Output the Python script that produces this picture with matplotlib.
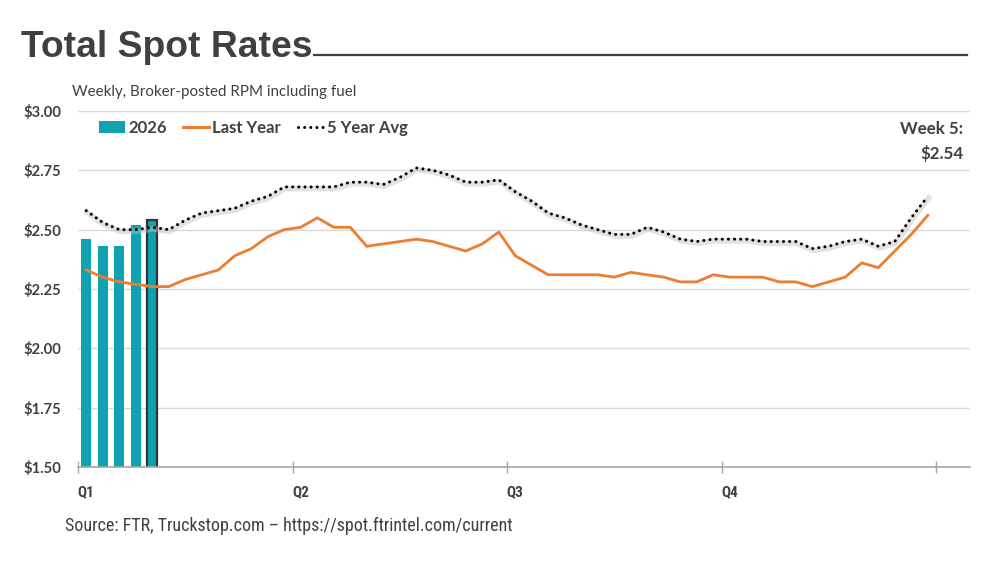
import matplotlib
matplotlib.use("Agg")
import matplotlib.pyplot as plt
from matplotlib import font_manager
from matplotlib import transforms as mtrans
from matplotlib.lines import Line2D
from matplotlib.patches import Patch

# ---------------- data ----------------
quarters = ["Q1", "Q2", "Q3", "Q4"]
bars_2026 = [2.46, 2.43, 2.43, 2.52, 2.54]
last_year = [2.33, 2.30, 2.28, 2.27, 2.26, 2.26, 2.29, 2.31, 2.33, 2.39,
             2.42, 2.47, 2.50, 2.51, 2.55, 2.51, 2.51, 2.43, 2.44, 2.45,
             2.46, 2.45, 2.43, 2.41, 2.44, 2.49, 2.39, 2.35, 2.31, 2.31,
             2.31, 2.31, 2.30, 2.32, 2.31, 2.30, 2.28, 2.28, 2.31, 2.30,
             2.30, 2.30, 2.28, 2.28, 2.26, 2.28, 2.30, 2.36, 2.34, 2.41,
             2.48, 2.56]
five_year_avg = [2.58, 2.53, 2.50, 2.50, 2.51, 2.50, 2.54, 2.57, 2.58, 2.59,
                 2.62, 2.64, 2.68, 2.68, 2.68, 2.68, 2.70, 2.70, 2.69, 2.72,
                 2.76, 2.75, 2.73, 2.70, 2.70, 2.71, 2.66, 2.62, 2.57, 2.55,
                 2.52, 2.50, 2.48, 2.48, 2.51, 2.49, 2.46, 2.45, 2.46, 2.46,
                 2.46, 2.45, 2.45, 2.45, 2.42, 2.43, 2.45, 2.46, 2.43, 2.45,
                 2.55, 2.64]
y_ticks = [1.50, 1.75, 2.00, 2.25, 2.50, 2.75, 3.00]
y_tick_labels = ["$1.50", "$1.75", "$2.00", "$2.25", "$2.50", "$2.75", "$3.00"]
title = "Total Spot Rates"
subtitle = "Weekly, Broker-posted RPM including fuel"
source = "Source: FTR, Truckstop.com \u2013 https://spot.ftrintel.com/current"
callout = "Week 5:\n$2.54"

# ---------------- fonts ----------------
avail = {f.name for f in font_manager.fontManager.ttflist}
def pick(*names):
    for n in names:
        if n in avail:
            return n
    return "DejaVu Sans"

F_TITLE = pick("Liberation Sans", "Arial")
F_BODY = pick("Lato", "Open Sans", "Noto Sans")
F_NARROW = pick("Liberation Sans Narrow", "Roboto Condensed", "Liberation Sans")

TXT = "#404040"
TEAL = "#0FA3B1"
ORANGE = "#ED7D31"
GRID = "#D9D9D9"
AXIS = "#A6A6A6"
DOTS = (0, (0.01, 2.0))

W, H = 997, 561
fig = plt.figure(figsize=(W / 100, H / 100), dpi=100)
fig.patch.set_facecolor("white")

L, R, T, B = 78, 970, 111, 467
ax = fig.add_axes([L / W, 1 - B / H, (R - L) / W, (B - T) / H])

weeks = list(range(len(last_year)))
bar_x = list(range(len(bars_2026)))

ax.set_ylim(1.5, 3.0)
ax.set_xlim(-0.5, -0.5 + (R - L) / 16.5)

ax.set_yticks(y_ticks)
ax.set_yticklabels(y_tick_labels, fontfamily=F_BODY, fontweight="bold",
                   fontsize=10.6, color=TXT)
ax.yaxis.grid(True, color=GRID, linewidth=1.0)
ax.set_axisbelow(True)
ax.tick_params(axis="y", length=0, pad=12)

# x-axis: boundary ticks (major) and quarter labels (minor)
ax.set_xticks([-0.5, 12.5, 25.5, 38.5, 51.5])
ax.set_xticklabels([])
ax.tick_params(axis="x", which="major", direction="inout", length=8,
               color=AXIS, width=1)
ax.set_xticks([0, 13, 26, 39], minor=True)
ax.set_xticklabels(quarters, minor=True, fontfamily=F_NARROW,
                   fontweight="bold", fontsize=11, color=TXT)
ax.tick_params(axis="x", which="minor", length=0, pad=13)

for s in ["top", "right", "left"]:
    ax.spines[s].set_visible(False)
ax.spines["bottom"].set_color(AXIS)
ax.spines["bottom"].set_linewidth(1.2)

# bars
bars = ax.bar(bar_x, bars_2026, bottom=0, width=0.63, color=TEAL, zorder=2)
bars[-1].set_edgecolor("#333333")
bars[-1].set_linewidth(1.6)

# last year
ax.plot(weeks, last_year, color=ORANGE, linewidth=2.0, zorder=3,
        solid_joinstyle="round")

# five-year average: soft shadow + dotted line
shadow_tr = mtrans.offset_copy(ax.transData, fig=fig, x=0.6, y=-1.2,
                               units="points")
ax.plot(weeks, five_year_avg, color="#BFBFBF", alpha=0.45, linewidth=4.0,
        transform=shadow_tr, zorder=3.5, solid_joinstyle="round")
ax.plot(weeks, five_year_avg, color="black", linewidth=2.2,
        linestyle=DOTS, dash_capstyle="round", zorder=4)

# legend
handles = [Patch(facecolor=TEAL, edgecolor="none"),
           Line2D([0], [0], color=ORANGE, linewidth=2.2),
           Line2D([0], [0], color="black", linewidth=2.2,
                  linestyle=DOTS, dash_capstyle="round")]
leg = ax.legend(handles, ["2026", "Last Year", "5 Year Avg"],
                loc="upper left", bbox_to_anchor=((88 - L) / (R - L), 1.005),
                ncol=3, frameon=False, handlelength=1.55, handletextpad=0.2,
                columnspacing=1.0, borderaxespad=0.25,
                prop={"family": F_BODY, "weight": "bold", "size": 12})
for t in leg.get_texts():
    t.set_color(TXT)

# callout
fig.text(963 / W, 1 - 121 / H, callout, ha="right", va="top",
         fontfamily=F_BODY, fontweight="bold", fontsize=12.2, color=TXT,
         linespacing=1.6)

# title with rule
fig.text(21 / W, 1 - 57 / H, title, ha="left", va="baseline",
         fontfamily=F_TITLE, fontweight="bold", fontsize=26.8, color=TXT)
fig.add_artist(Line2D([314 / W, 967 / W], [1 - 55 / H, 1 - 55 / H],
                      color=TXT, linewidth=1.6))

fig.text(72 / W, 1 - 92 / H, subtitle, ha="left", va="center",
         fontfamily=F_BODY, fontsize=10.9, color=TXT)

fig.text(65 / W, 1 - 526 / H, source, ha="left", va="center",
         fontfamily=F_NARROW, fontsize=13, color=TXT)

fig.savefig("out.png", dpi=100, facecolor="white")
